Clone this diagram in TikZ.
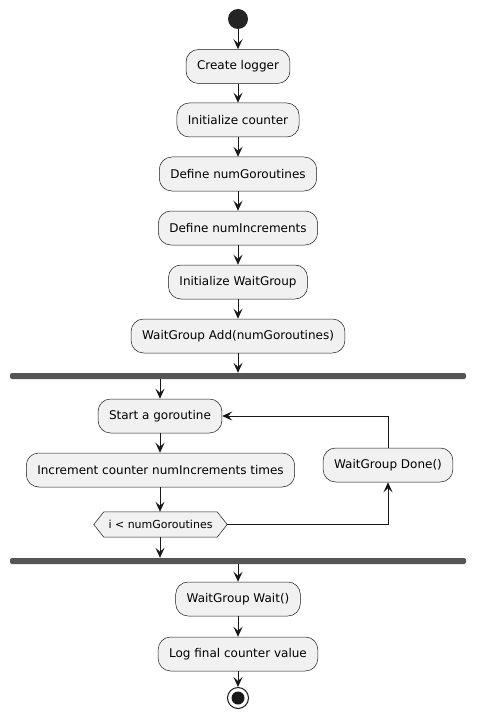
\documentclass[tikz,border=0pt]{standalone}
\usepackage{fontspec}
\setmainfont{DejaVu Sans}
\usetikzlibrary{arrows.meta,positioning,calc}
\definecolor{boxfill}{HTML}{F1F1F1}
\definecolor{ink}{HTML}{181818}
\definecolor{barc}{HTML}{555555}
\pgfdeclarelayer{bgwhite}
\pgfdeclarelayer{background}
\pgfsetlayers{bgwhite,background,main}
\tikzset{
  act/.style={draw=ink, line width=0.5pt, fill=boxfill, rounded corners=12.5pt,
    minimum height=34pt, inner xsep=11pt, font=\fontsize{12}{14}\selectfont, text=black},
  bar/.style={fill=barc, draw=none, rounded corners=2pt, minimum width=456pt, minimum height=6pt, inner sep=0pt},
  arr/.style={draw=ink, line width=1pt, -{Stealth[length=10pt,width=9pt,inset=4pt]}},
  hexlabel/.style={font=\fontsize{11}{13}\selectfont, minimum height=25pt, minimum width=133pt, inner sep=0pt}
}
\begin{document}
\begin{tikzpicture}[x=1pt,y=-1pt]
\useasboundingbox (0,0) rectangle (476,722);
\begin{pgfonlayer}{bgwhite}
\fill[white] (0,0) rectangle (476,722);
\end{pgfonlayer}
\node[circle, fill=ink!95, minimum size=20pt, inner sep=0pt] (start0) at (238,19) {};
\node[act] (logger) at (238,66.5) {Create logger};
\node[act] (counter) at (238,120) {Initialize counter};
\node[act] (numg) at (238,174) {Define numGoroutines};
\node[act] (numi) at (238,228) {Define numIncrements};
\node[act] (wg) at (238,282) {Initialize WaitGroup};
\node[act] (add) at (238,336) {WaitGroup Add(numGoroutines)};
\node[bar] (fork) at (238,376) {};
\node[act] (startg) at (160,416) {Start a goroutine};
\node[act] (inc) at (160.5,470) {Increment counter numIncrements times};
\node[hexlabel] (dec) at (160.5,524.5) {i < numGoroutines};
\begin{pgfonlayer}{background}
\draw[draw=ink, line width=0.5pt, fill=boxfill]
  (dec.west) -- ([xshift=10pt]dec.north west) -- ([xshift=-10pt]dec.north east) -- (dec.east)
  -- ([xshift=-10pt]dec.south east) -- ([xshift=10pt]dec.south west) -- cycle;
\end{pgfonlayer}
\node[act] (done) at (388,465) {WaitGroup Done()};
\node[bar] (join) at (238,561) {};
\node[act] (wait) at (238,599) {WaitGroup Wait()};
\node[act] (logf) at (238,654) {Log final counter value};
\node[circle, draw=ink, line width=1pt, fill=white, minimum size=21pt, inner sep=0pt] (end0) at (238,698) {};
\fill[ink] (end0.center) circle (6.5pt);

\draw[arr] (start0) -- (logger);
\draw[arr] (logger) -- (counter);
\draw[arr] (counter) -- (numg);
\draw[arr] (numg) -- (numi);
\draw[arr] (numi) -- (wg);
\draw[arr] (wg) -- (add);
\draw[arr] (add) -- (fork.north -| add);
\draw[arr] (fork.south -| startg) -- (startg);
\draw[arr] (startg) -- (inc.north -| startg);
\draw[arr] (inc.south -| startg) -- (dec.north -| startg);
\draw[arr] (dec.south -| startg) -- (join.north -| startg);
\draw[arr] (dec.east) -| (done.south);
\draw[arr] (done.north) |- (startg.east);
\draw[arr] (join.south -| wait) -- (wait);
\draw[arr] (wait) -- (logf);
\draw[arr] (logf) -- (end0);
\end{tikzpicture}
\end{document}
